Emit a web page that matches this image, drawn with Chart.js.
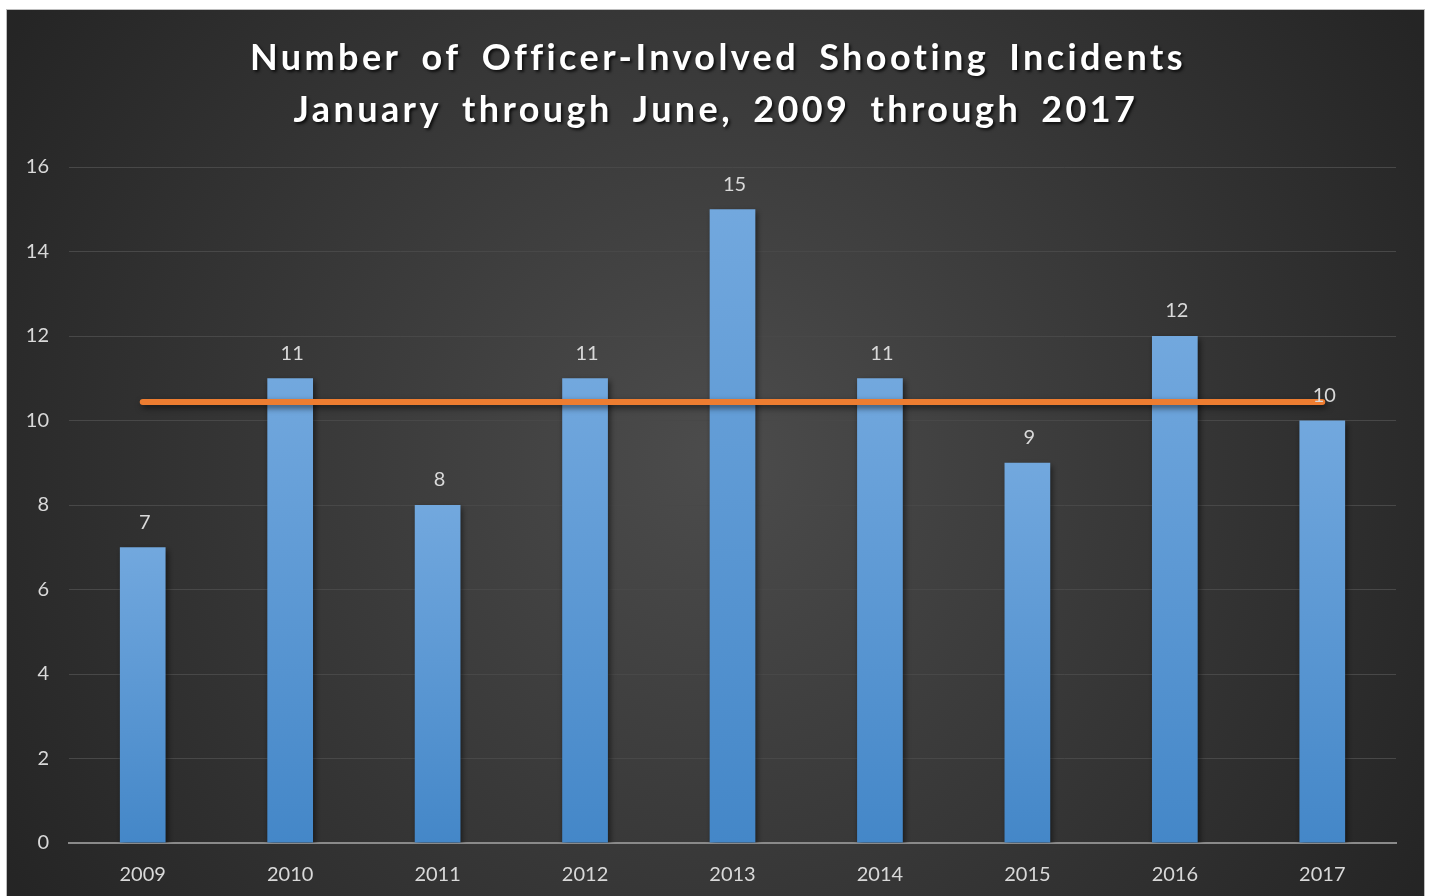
<!DOCTYPE html>
<html>
<head>
<meta charset="utf-8">
<script src="https://cdn.jsdelivr.net/npm/chart.js@4.4.1/dist/chart.umd.min.js"></script>
<style>
  html, body { margin: 0; padding: 0; background: #ffffff; overflow: hidden; }
  #box { position: absolute; left: 6px; top: 9px; width: 1417px; height: 890px; border: 1px solid #bdbdbd; }
  canvas { display: block; }
</style>
</head>
<body>
<div id="box"><canvas id="shootings" width="1417" height="890"></canvas></div>
<script>
// data
const years = ["2009", "2010", "2011", "2012", "2013", "2014", "2015", "2016", "2017"];
const incidents = [7, 11, 8, 11, 15, 11, 9, 12, 10];
const averageLine = [10.44, 10.44, 10.44, 10.44, 10.44, 10.44, 10.44, 10.44, 10.44];
const yTicks = [0, 2, 4, 6, 8, 10, 12, 14, 16];
const titleLines = ["Number of Officer-Involved Shooting Incidents", "January through June, 2009 through 2017"];

const labelColor = "#d9d9d9";
const tickFont = { family: "Lato", size: 20 };

// dark radial background + title
const backdrop = {
    id: "backdrop",
    beforeDraw(chart) {
        const ctx = chart.ctx;
        const w = chart.width, h = chart.height;
        ctx.save();
        let g = ctx.createRadialGradient(w / 2, h / 2, 0, w / 2, h / 2, 820);
        g.addColorStop(0, "#4c4c4c");
        g.addColorStop(1, "#252525");
        ctx.fillStyle = g;
        ctx.fillRect(0, 0, w, h);
        ctx.restore();
    },
    afterDraw(chart) {
        const ctx = chart.ctx;
        ctx.save();
        ctx.font = "bold 36px Lato";
        ctx.letterSpacing = "3.4px";
        ctx.wordSpacing = "8px";
        ctx.fillStyle = "#ffffff";
        ctx.textAlign = "center";
        ctx.textBaseline = "middle";
        ctx.shadowColor = "rgba(0,0,0,0.75)";
        ctx.shadowBlur = 3;
        ctx.shadowOffsetX = 2;
        ctx.shadowOffsetY = 2;
        ctx.fillText(titleLines[0], 711, 48);
        ctx.fillText(titleLines[1], 709, 100);
        ctx.restore();
    }
};

// value labels above the bars
const barValues = {
    id: "barValues",
    afterDatasetsDraw(chart) {
        const ctx = chart.ctx;
        const meta = chart.getDatasetMeta(1);
        ctx.save();
        ctx.font = "20px Lato";
        ctx.fillStyle = labelColor;
        ctx.textAlign = "center";
        ctx.textBaseline = "middle";
        meta.data.forEach((bar, i) => {
            ctx.fillText(incidents[i], bar.x + 2, bar.y - 25);
        });
        ctx.restore();
    }
};

// soft shadow under bars and line
const shadows = {
    id: "shadows",
    beforeDatasetDraw(chart, args) {
        const ctx = chart.ctx;
        ctx.save();
        ctx.shadowColor = "rgba(0,0,0,0.55)";
        ctx.shadowBlur = 6;
        ctx.shadowOffsetX = 2;
        ctx.shadowOffsetY = 3;
    },
    afterDatasetDraw(chart) {
        chart.ctx.restore();
    }
};

function barGradient(context) {
    const chart = context.chart;
    const y = chart.scales.y;
    if (!chart.chartArea || !y) return "#5b9bd5";
    const v = context.raw;
    const top = y.getPixelForValue(v);
    const bottom = y.getPixelForValue(0);
    const g = chart.ctx.createLinearGradient(0, top, 0, bottom);
    g.addColorStop(0, "#72a8de");
    g.addColorStop(1, "#4487c8");
    return g;
}

const ctx = document.getElementById("shootings").getContext("2d");

const myChart = new Chart(ctx, {
    plugins: [backdrop, shadows, barValues],
    data: {
        labels: years,
        datasets: [{
            type: "line",
            data: averageLine,
            borderColor: "#ed7d31",
            borderWidth: 6,
            borderCapStyle: "round",
            pointRadius: 0,
            fill: false,
            order: 0
        }, {
            type: "bar",
            data: incidents,
            backgroundColor: barGradient,
            borderWidth: 0,
            barPercentage: 0.62,
            categoryPercentage: 0.5,
            order: 1
        }]
    },
    options: {
        responsive: false,
        animation: false,
        layout: {
            padding: { top: 157, right: 28, bottom: 0, left: 0 }
        },
        plugins: {
            legend: { display: false },
            title: { display: false },
            tooltip: { enabled: false }
        },
        scales: {
            x: {
                grid: { display: false, drawTicks: false },
                border: { display: true, color: "#8a8a8a", width: 2 },
                ticks: { color: labelColor, font: tickFont, padding: 20 },
                afterFit: (scale) => { scale.height = 57; }
            },
            y: {
                min: 0,
                max: 16,
                afterBuildTicks: (scale) => { scale.ticks = yTicks.map(v => ({ value: v })); },
                grid: { color: "#484848", lineWidth: 1, drawTicks: false },
                border: { display: false },
                ticks: { color: labelColor, font: tickFont, padding: 20 },
                afterFit: (scale) => { scale.width = 62; }
            }
        }
    }
});
</script>
</body>
</html>
